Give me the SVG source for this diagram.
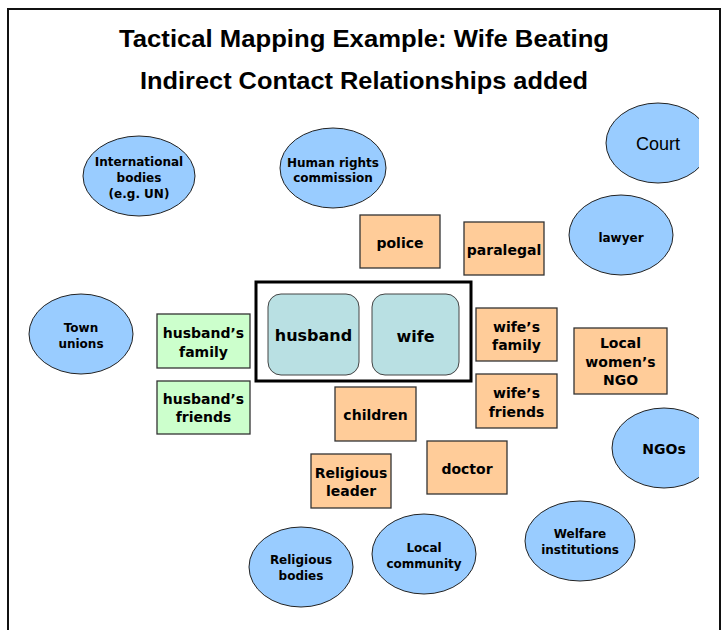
<svg xmlns="http://www.w3.org/2000/svg" width="723" height="630" viewBox="0 0 723 630">
  <style>
    .title { font-family: "Liberation Sans", Arial, sans-serif; font-weight: bold; font-size: 24.5px; fill: #000; text-anchor: middle; }
    .ell { fill: #99ccff; stroke: #222; stroke-width: 1; }
    .box { stroke: #333; stroke-width: 1.3; }
    .org { fill: #ffcc99; }
    .grn { fill: #ccffcc; }
    .core { fill: #b9e0e3; stroke: #444; stroke-width: 1; }
    .t12 { font-family: "DejaVu Sans", Verdana, sans-serif; font-weight: bold; font-size: 12px; fill: #000; text-anchor: middle; }
    .t14 { font-family: "DejaVu Sans", Verdana, sans-serif; font-weight: bold; font-size: 14px; fill: #000; text-anchor: middle; }
    .t16 { font-family: "DejaVu Sans", Verdana, sans-serif; font-weight: bold; font-size: 16px; fill: #000; text-anchor: middle; }
    .court { font-family: "Liberation Sans", Arial, sans-serif; font-size: 18px; fill: #000; text-anchor: middle; }
  </style>
  <defs>
    <clipPath id="slide">
      <rect x="0" y="0" width="699" height="630"/>
    </clipPath>
  </defs>

  <rect x="0" y="0" width="723" height="630" fill="#fff"/>
  <!-- slide frame -->
  <path d="M8 630 V9 H720 V630" fill="none" stroke="#111" stroke-width="2"/>

  <text class="title" x="364" y="47" textLength="490" lengthAdjust="spacingAndGlyphs">Tactical Mapping Example: Wife Beating</text>
  <text class="title" x="364" y="89" textLength="448" lengthAdjust="spacingAndGlyphs">Indirect Contact Relationships added</text>

  <g id="connectors"></g>

  <g clip-path="url(#slide)">
    <g id="intl-bodies">
      <ellipse class="ell" cx="139" cy="176" rx="56" ry="40"/>
      <text class="t12" x="139" y="165.5">International</text>
      <text class="t12" x="139" y="181.5">bodies</text>
      <text class="t12" x="139" y="197.5">(e.g. UN)</text>
    </g>
    <g id="human-rights">
      <ellipse class="ell" cx="333" cy="168" rx="53" ry="40"/>
      <text class="t12" x="333" y="166.5">Human rights</text>
      <text class="t12" x="333" y="181.5">commission</text>
    </g>
    <g id="court">
      <ellipse class="ell" cx="658" cy="143" rx="52" ry="40"/>
      <text class="court" x="658" y="149.5">Court</text>
    </g>
    <g id="lawyer">
      <ellipse class="ell" cx="621" cy="235" rx="52" ry="40"/>
      <text class="t12" x="621" y="241.5">lawyer</text>
    </g>
    <g id="town-unions">
      <ellipse class="ell" cx="81" cy="334" rx="52" ry="40"/>
      <text class="t12" x="81" y="331.5">Town</text>
      <text class="t12" x="81" y="347.5">unions</text>
    </g>
    <g id="ngos">
      <ellipse class="ell" cx="664" cy="448" rx="52" ry="40"/>
      <text class="t14" x="664" y="454">NGOs</text>
    </g>
    <g id="religious-bodies">
      <ellipse class="ell" cx="301" cy="567" rx="52" ry="40"/>
      <text class="t12" x="301" y="563.5">Religious</text>
      <text class="t12" x="301" y="579.5">bodies</text>
    </g>
    <g id="local-community">
      <ellipse class="ell" cx="424" cy="554" rx="52" ry="40"/>
      <text class="t12" x="424" y="551.5">Local</text>
      <text class="t12" x="424" y="567.5">community</text>
    </g>
    <g id="welfare">
      <ellipse class="ell" cx="580" cy="541" rx="55" ry="40"/>
      <text class="t12" x="580" y="537.5">Welfare</text>
      <text class="t12" x="580" y="553.5">institutions</text>
    </g>
  </g>

  <g id="police">
    <rect class="box org" x="360" y="215" width="80" height="53"/>
    <text class="t14" x="400" y="248">police</text>
  </g>
  <g id="paralegal">
    <rect class="box org" x="464" y="222" width="80" height="53"/>
    <text class="t14" x="504" y="255">paralegal</text>
  </g>
  <g id="husbands-family">
    <rect class="box grn" x="157" y="314" width="93" height="54"/>
    <text class="t14" x="203.5" y="338">husband’s</text>
    <text class="t14" x="203.5" y="357">family</text>
  </g>
  <g id="husbands-friends">
    <rect class="box grn" x="157" y="381" width="93" height="53"/>
    <text class="t14" x="203.5" y="404">husband’s</text>
    <text class="t14" x="203.5" y="422">friends</text>
  </g>

  <g id="couple">
    <rect x="256" y="282" width="215" height="99" fill="#fff" stroke="#000" stroke-width="3"/>
    <g id="husband">
      <rect class="core" x="268" y="294" width="91" height="81" rx="13"/>
      <text class="t16" x="313.5" y="341">husband</text>
    </g>
    <g id="wife">
      <rect class="core" x="372" y="294" width="87" height="81" rx="13"/>
      <text class="t16" x="415.5" y="342">wife</text>
    </g>
  </g>

  <g id="wifes-family">
    <rect class="box org" x="476" y="308" width="81" height="53"/>
    <text class="t14" x="516.5" y="332">wife’s</text>
    <text class="t14" x="516.5" y="350">family</text>
  </g>
  <g id="wifes-friends">
    <rect class="box org" x="476" y="374" width="81" height="54"/>
    <text class="t14" x="516.5" y="398">wife’s</text>
    <text class="t14" x="516.5" y="417">friends</text>
  </g>
  <g id="womens-ngo">
    <rect class="box org" x="574" y="328" width="93" height="66"/>
    <text class="t14" x="620.5" y="348">Local</text>
    <text class="t14" x="620.5" y="367">women’s</text>
    <text class="t14" x="620.5" y="385">NGO</text>
  </g>
  <g id="children">
    <rect class="box org" x="335" y="387" width="81" height="54"/>
    <text class="t14" x="375.5" y="420">children</text>
  </g>
  <g id="religious-leader">
    <rect class="box org" x="311" y="454" width="80" height="54"/>
    <text class="t14" x="351" y="478">Religious</text>
    <text class="t14" x="351" y="496">leader</text>
  </g>
  <g id="doctor">
    <rect class="box org" x="427" y="441" width="80" height="53"/>
    <text class="t14" x="467" y="474">doctor</text>
  </g>
</svg>
